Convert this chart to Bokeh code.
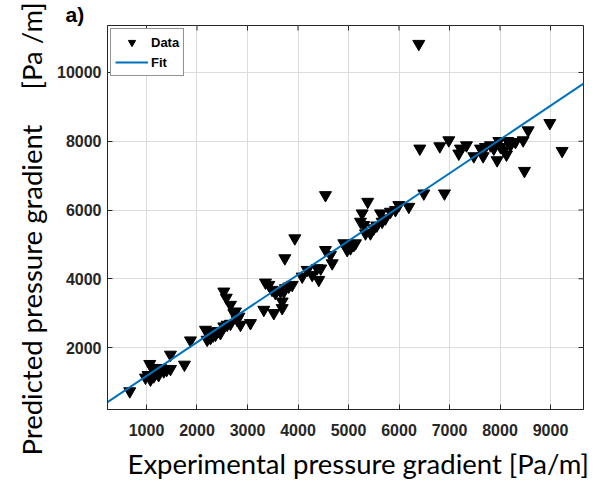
import numpy as np
from bokeh.plotting import figure
from bokeh.models import (Range1d, FixedTicker, Title, Legend, LegendItem, ColumnDataSource)
from bokeh.embed import file_html
from bokeh.resources import INLINE

# ---------------- data ----------------
exp_x = [669, 980, 1030, 1065, 1079, 1112, 1145, 1180, 1211, 1240, 1277, 1343, 1400, 1475, 1475,
         1752, 1871, 2168, 2201, 2234, 2267, 2320, 2366, 2420, 2465, 2531, 2597, 2531, 2580, 2663,
         2663, 2729, 2762, 2795, 2830, 2861, 3059, 3323, 3356, 3422, 3487, 3521, 3554, 3653, 3687,
         3687, 3720, 3739, 3752, 3817, 3885, 3937, 4083, 4182, 4281, 4380, 4412, 4450, 4544, 4544,
         4643, 4677, 4907, 4940, 4973, 5039, 5105, 5138, 5237, 5270, 5303, 5336, 5380, 5435, 5500,
         5560, 5633, 5666, 5732, 5831, 5930, 5996, 6194, 6392, 6412, 6491, 6808, 6900, 6986, 7184,
         7217, 7336, 7481, 7613, 7666, 7712, 7811, 7877, 7943, 7976, 8009, 8075, 8128, 8154, 8207,
         8306, 8458, 8484, 8557, 8986, 9230]
pred_y = [729, 1126, 1200, 1523, 1068, 1407, 1164, 1250, 1309, 1200, 1407, 1309, 1350, 1378, 1793,
          1503, 2208, 2518, 2228, 2470, 2277, 2350, 2373, 2480, 2422, 2615, 2663, 3629, 3450, 3243,
          2692, 3002, 3050, 2808, 2900, 2663, 2712, 3098, 3890, 3823, 3678, 3002, 3582, 3629, 3147,
          3339, 3630, 4597, 3727, 3774, 3823, 5177, 4064, 4258, 4113, 4307, 3968, 4300, 4838, 6433,
          4693, 4452, 5033, 4983, 4838, 4887, 4983, 5032, 5660, 5902, 5563, 5322, 6239, 5322, 5467,
          5550, 5902, 5660, 5757, 5950, 5998, 6143, 6094, 10832, 7787, 6482, 7854, 6482, 8028, 7642,
          7787, 7883, 7564, 7787, 7564, 7834, 7883, 7787, 7448, 8008, 7834, 7738, 7613, 8008, 7883,
          7979, 8028, 7138, 8318, 8530, 7718]
fit_slope = 0.983
fit_intercept = 186.0

x_ticks = [1000, 2000, 3000, 4000, 5000, 6000, 7000, 8000, 9000]
y_ticks = [2000, 4000, 6000, 8000, 10000]
x_lim = (228, 9653)
y_lim = (198, 11366)

# ---------------- layout ----------------
W, H = 600, 485
BL, BR, BT, BB = 107, 17, 25, 76

p = figure(width=W, height=H, output_backend="svg", toolbar_location=None,
           x_range=Range1d(*x_lim), y_range=Range1d(*y_lim),
           min_border_left=BL, min_border_right=BR, min_border_top=BT, min_border_bottom=BB,
           background_fill_color="white", border_fill_color="white")
p.outline_line_color = "#262626"
p.outline_line_width = 1
p.outline_line_alpha = 1

axcol = "#262626"
tick_font = "Liberation Sans"
for ax in p.xaxis:
    ax.ticker = FixedTicker(ticks=x_ticks)
    ax.major_label_standoff = 14
for ax in p.yaxis:
    ax.ticker = FixedTicker(ticks=y_ticks)
    ax.major_label_standoff = 6
for ax in list(p.xaxis) + list(p.yaxis):
    ax.major_tick_in = 5
    ax.major_tick_out = 0
    ax.minor_tick_line_color = None
    ax.axis_line_color = axcol
    ax.major_tick_line_color = axcol
    ax.major_label_text_font = tick_font
    ax.major_label_text_font_style = "bold"
    ax.major_label_text_font_size = "16px"
    ax.major_label_text_color = axcol

p.xgrid.ticker = FixedTicker(ticks=x_ticks)
p.ygrid.ticker = FixedTicker(ticks=y_ticks)
p.grid.grid_line_color = "#dcdcdc"
p.grid.grid_line_width = 1

# mirrored tick marks on the top and right frame edges (half of each dash is clipped by the frame)
p.scatter(x_ticks, [y_lim[1]] * len(x_ticks), marker="dash", size=10, angle=np.pi / 2,
          line_color=axcol, line_width=1)
p.scatter([x_lim[1]] * len(y_ticks), y_ticks, marker="dash", size=10,
          line_color=axcol, line_width=1)

src = ColumnDataSource(dict(x=exp_x, y=pred_y))
r_data = p.scatter("x", "y", source=src, marker="inverted_triangle", size=12,
                   fill_color="black", line_color="black")

fx = np.array(x_lim, dtype=float)
fy = fit_slope * fx + fit_intercept
r_fit = p.line(fx, fy, line_color="#0072BD", line_width=2)

legend = Legend(items=[LegendItem(label="Data", renderers=[r_data]),
                       LegendItem(label="Fit", renderers=[r_fit])],
                location="top_left", margin=3, padding=4, spacing=2,
                glyph_width=33, glyph_height=18, label_height=18, label_standoff=3,
                label_text_font=tick_font, label_text_font_style="bold",
                label_text_font_size="13px", label_text_color="black",
                border_line_color=axcol, border_line_width=1,
                background_fill_color="white", background_fill_alpha=1)
p.add_layout(legend, "center")

lab_font = "Lato"
p.add_layout(Title(text="Experimental pressure gradient [Pa/m]", align="left", offset=20,
                   text_font=lab_font, text_font_size="27.5px", text_font_style="normal",
                   text_color="black", standoff=12), "below")
p.add_layout(Title(text="Predicted pressure gradient" + "\u00a0" * 5 + "[Pa /m]",
                   align="left", offset=-46,
                   text_font=lab_font, text_font_size="27.5px", text_font_style="normal",
                   text_color="black", standoff=13), "left")
p.add_layout(Title(text="a)", align="left", offset=-42, text_font="Liberation Sans",
                   text_font_size="21px", text_font_style="bold", text_color="black",
                   standoff=0), "above")

open("out.html", "w").write(file_html(p, INLINE))
